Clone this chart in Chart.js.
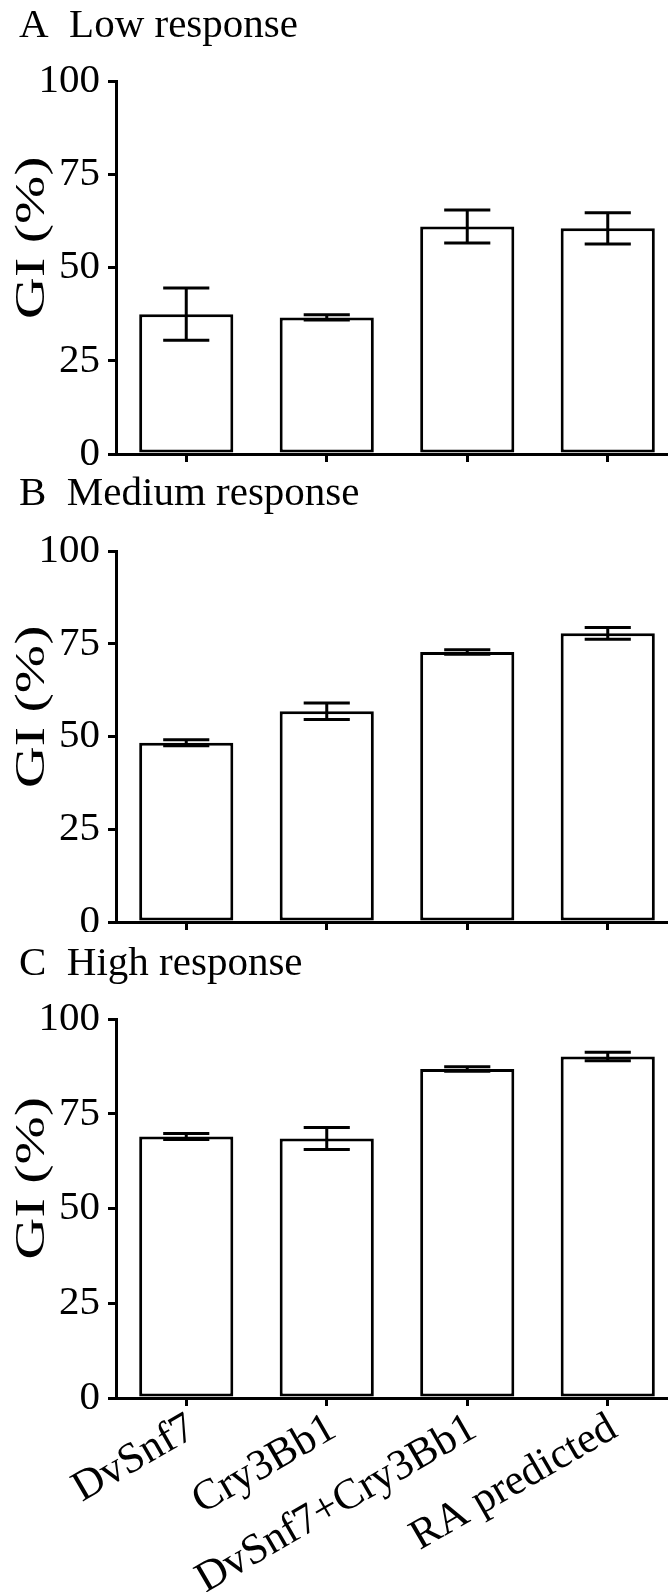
<!DOCTYPE html>
<html>
<head>
<meta charset="utf-8">
<script src="https://cdn.jsdelivr.net/npm/chart.js@4.4.1/dist/chart.umd.min.js"></script>
<style>
  html, body { margin: 0; padding: 0; background: #fff; overflow: hidden; }
  #wrap { position: relative; width: 668px; height: 1592px; overflow: hidden; }
  .panel { position: absolute; left: 0; width: 678px; }
  .panel canvas { display: block; }
</style>
</head>
<body>
<div id="wrap">
  <div class="panel" id="pA" style="top:0px;height:466px;"><canvas id="cA"></canvas></div>
  <div class="panel" id="pB" style="top:466px;height:466px;"><canvas id="cB"></canvas></div>
  <div class="panel" id="pC" style="top:932px;height:660px;"><canvas id="cC"></canvas></div>
</div>
<script>
// ---- Data ----
const categories = ['DvSnf7', 'Cry3Bb1', 'DvSnf7+Cry3Bb1', 'RA predicted'];
const panelTitles = ['A  Low response', 'B  Medium response', 'C  High response'];
const yAxisTitle = 'GI (%)';
const yTicks = [0, 25, 50, 75, 100];

const lowMeans = [37.5, 36.6, 61.0, 60.5];
const lowErrors = [7.0, 0.7, 4.4, 4.2];
const mediumMeans = [48.3, 56.8, 72.8, 77.8];
const mediumErrors = [0.8, 2.2, 0.6, 1.6];
const highMeans = [69.0, 68.5, 86.8, 90.1];
const highErrors = [0.8, 2.9, 0.6, 1.1];

const FONT = "'Liberation Serif', 'Times New Roman', serif";
Chart.defaults.font.family = FONT;
Chart.defaults.color = '#000';

const errorBarPlugin = {
  id: 'errorBars',
  afterDatasetsDraw(chart, args, opts) {
    const ctx = chart.ctx;
    const ys = chart.scales.y;
    const meta = chart.getDatasetMeta(0);
    const ds = chart.data.datasets[0];
    ctx.save();
    ctx.strokeStyle = '#000';
    ctx.lineWidth = 3;
    ctx.lineCap = 'butt';
    meta.data.forEach((bar, i) => {
      const v = ds.data[i], e = ds.errors[i];
      const yt = ys.getPixelForValue(v + e);
      const yb = ys.getPixelForValue(v - e);
      const half = bar.width * 0.245;
      ctx.beginPath();
      ctx.moveTo(bar.x, yt); ctx.lineTo(bar.x, yb);
      ctx.moveTo(bar.x - half, yt); ctx.lineTo(bar.x + half, yt);
      ctx.moveTo(bar.x - half, yb); ctx.lineTo(bar.x + half, yb);
      ctx.stroke();
    });
    ctx.restore();
  }
};

const textPlugin = {
  id: 'panelText',
  afterDraw(chart, args, opts) {
    const ctx = chart.ctx;
    const ca = chart.chartArea;
    ctx.save();
    ctx.fillStyle = '#000';
    ctx.font = '41px ' + FONT;
    ctx.textAlign = 'left';
    ctx.textBaseline = 'alphabetic';
    ctx.fillText(opts.title, 19, opts.titleBaseline);
    ctx.translate(33, ca.top + (ca.bottom - ca.top) * 0.42);
    ctx.rotate(-Math.PI / 2);
    ctx.scale(1.38, 1);
    ctx.textAlign = 'center';
    ctx.textBaseline = 'middle';
    ctx.font = '42px ' + FONT;
    ctx.fillText(yAxisTitle, 0, 0);
    ctx.restore();
  }
};

function makeChart(id, means, errors, title, cfg) {
  return new Chart(document.getElementById(id), {
    type: 'bar',
    data: {
      labels: categories,
      datasets: [{
        data: means,
        errors: errors,
        backgroundColor: '#fff',
        borderColor: '#000',
        borderWidth: 3,
        borderSkipped: false,
        categoryPercentage: 1.0,
        barPercentage: 0.67
      }]
    },
    options: {
      responsive: true,
      maintainAspectRatio: false,
      animation: false,
      layout: { padding: { top: cfg.top, bottom: 0, left: 0, right: 0 } },
      plugins: {
        legend: { display: false },
        tooltip: { enabled: false },
        panelText: { title: title, titleBaseline: cfg.titleBaseline }
      },
      scales: {
        x: {
          type: 'category',
          offset: true,
          grid: { display: true, drawOnChartArea: false, drawTicks: true, tickLength: 8, lineWidth: 3, color: '#000', offset: false },
          border: { display: true, width: 3, color: '#000' },
          ticks: {
            display: cfg.showLabels,
            font: { size: 43, family: FONT },
            color: '#000',
            minRotation: 30,
            maxRotation: 30,
            padding: -3,
            labelOffset: 6,
            autoSkip: false
          },
          afterFit(scale) { scale.height = cfg.xHeight; scale.paddingLeft = 0; scale.paddingRight = 0; }
        },
        y: {
          min: 0,
          max: 100,
          afterBuildTicks(scale) { scale.ticks = yTicks.map(v => ({ value: v })); },
          grid: { display: true, drawOnChartArea: false, drawTicks: true, tickLength: 8, lineWidth: 3, color: '#000' },
          border: { display: true, width: 3, color: '#000' },
          ticks: { font: { size: 41, family: FONT }, color: '#000', padding: 8 },
          afterFit(scale) { scale.width = 116; scale.paddingTop = 0; scale.paddingBottom = 0; }
        }
      }
    },
    plugins: [errorBarPlugin, textPlugin]
  });
}

makeChart('cA', lowMeans, lowErrors, panelTitles[0], { top: 81, xHeight: 12, titleBaseline: 37, showLabels: false });
makeChart('cB', mediumMeans, mediumErrors, panelTitles[1], { top: 85, xHeight: 10, titleBaseline: 39, showLabels: false });
makeChart('cC', highMeans, highErrors, panelTitles[2], { top: 87, xHeight: 194, titleBaseline: 43, showLabels: true });
</script>
</body>
</html>
